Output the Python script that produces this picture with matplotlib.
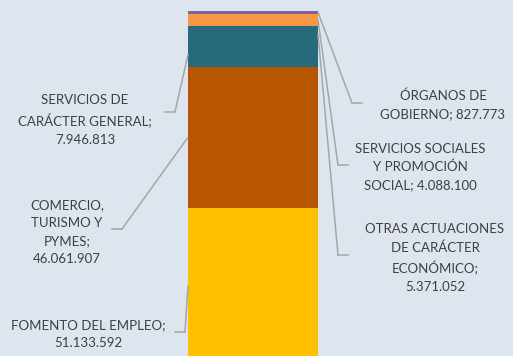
import matplotlib
matplotlib.use("Agg")
import matplotlib.pyplot as plt
import numpy as np

# data, bottom to top
categories = ["FOMENTO DEL EMPLEO", "COMERCIO, TURISMO Y PYMES",
              "SERVICIOS DE CARÁCTER GENERAL", "OTRAS ACTUACIONES DE CARÁCTER ECONÓMICO",
              "SERVICIOS SOCIALES Y PROMOCIÓN SOCIAL", "ÓRGANOS DE GOBIERNO"]
values = [51133592, 46061907, 7946813, 5371052, 4088100, 827773]
label_texts = ["FOMENTO DEL EMPLEO;\n51.133.592",
               "COMERCIO,\nTURISMO Y\nPYMES;\n46.061.907",
               "SERVICIOS DE\nCARÁCTER GENERAL;\n7.946.813",
               "OTRAS ACTUACIONES\nDE CARÁCTER\nECONÓMICO;\n5.371.052",
               "SERVICIOS SOCIALES\nY PROMOCIÓN\nSOCIAL; 4.088.100",
               "ÓRGANOS DE\nGOBIERNO; 827.773"]
colors = ["#FFC000", "#B85600", "#266A7B", "#266A7B", "#F79646", "#8064A2"]

W, H = 513, 356
bg = "#DDE5EF"
fig = plt.figure(figsize=(W / 100, H / 100), dpi=100, facecolor=bg)
ax = fig.add_axes([0, 0, 1, 1])
ax.set_facecolor(bg)
ax.axis("off")

bottoms = np.concatenate([[0], np.cumsum(values)[:-1]])
ax.bar(0, values, bottom=bottoms, width=1.0, color=colors, linewidth=0)

total = sum(values)
scale = 3.06e-6  # px per unit
ax.set_xlim(-0.5 - 188 / 130, 0.5 + (W - 318) / 130)
ax.set_ylim(total - 345 / scale, total + 11 / scale)


def px(x, y):
    return (x / W, 1 - y / H)


# label layout: text centre, elbow start, elbow end (pixels), side of bar
layout = [
    ((88, 334), (175, 332), (185, 332), -1),
    ((67, 232), (112, 229), (122, 229), -1),
    ((85, 120), (165, 112), (175, 112), -1),
    ((435, 258), (348, 255), (338, 255), 1),
    ((420, 167), (348, 165), (338, 165), 1),
    ((443, 105), (362, 103), (352, 103), 1),
]

line_col = "#A6A6A6"
for i, (txt, (tc, e0, e1, side)) in enumerate(zip(label_texts, layout)):
    ax.text(*px(*tc), txt, transform=ax.transAxes, ha="center", va="center",
            fontsize=9.5, color="#404040", family=["Lato", "DejaVu Sans"],
            linespacing=1.6)
    ax.plot([px(*e0)[0], px(*e1)[0]], [px(*e0)[1], px(*e1)[1]],
            transform=ax.transAxes, color=line_col, lw=1.1)
    ymid = bottoms[i] + values[i] / 2
    ax.annotate("", xy=(0.5 * side, ymid), xycoords="data",
                xytext=px(*e1), textcoords="axes fraction",
                arrowprops=dict(arrowstyle="-", color=line_col, lw=1.1,
                                shrinkA=0, shrinkB=0))

fig.savefig("out.png", dpi=100, facecolor=bg)
